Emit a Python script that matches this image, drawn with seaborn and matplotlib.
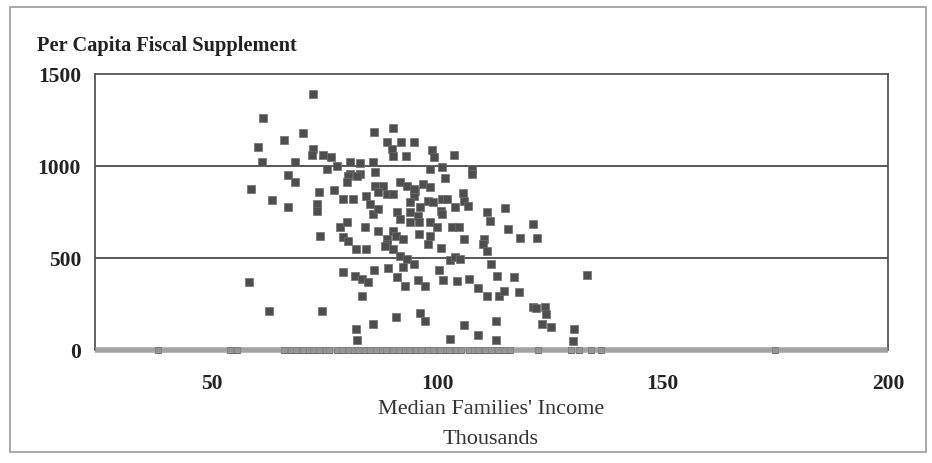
import matplotlib
matplotlib.use("Agg")
import matplotlib.pyplot as plt
import seaborn as sns
import pandas as pd
from matplotlib.patches import Rectangle

# ---- data (median families' income in thousands, per capita fiscal supplement) ----
income = [
    72.4, 61.3, 60.2, 66.0, 70.2, 61.1, 68.4, 66.9, 68.4, 58.7, 63.3, 66.9, 58.2, 62.7,
    72.4, 72.2, 74.7, 76.4, 73.8, 73.3, 73.3, 74.0, 74.4, 75.6, 77.8, 77.1,
    79.1, 81.3, 78.4, 80.0, 79.1, 80.2, 82.0, 84.2, 84.0, 80.7, 82.9, 80.7, 82.9, 80.2,
    82.2, 80.0, 79.1, 81.8, 83.3, 84.7, 83.3, 85.6, 82.0, 82.2,
    85.6, 86.2, 86.0, 90.2, 88.9, 92.0, 90.0, 90.2, 93.1, 84.2, 86.2, 88.0, 86.7, 88.9,
    90.2, 91.8, 93.3, 85.1, 85.8, 86.7, 91.1, 91.8, 86.9, 90.2, 90.7, 92.4, 88.9, 88.9,
    90.2, 91.8, 93.3, 88.4, 86.0, 89.1, 92.4, 91.1, 92.9, 90.9,
    94.7, 98.7, 99.3, 98.4, 101.1, 101.6, 96.9, 98.4, 95.1, 94.9, 94.0, 97.8, 99.1, 101.1,
    102.2, 94.0, 96.2, 95.6, 100.7, 101.1, 94.0, 98.4, 95.8, 100.0, 96.0, 97.8, 100.7, 98.4,
    94.7, 95.6, 97.3, 100.4, 96.2, 97.3, 94.7,
    103.6, 107.6, 107.6, 105.6, 105.8, 106.7, 104.0, 103.3, 104.7, 105.8, 102.9, 104.0,
    105.1, 101.3, 104.4, 106.9, 108.9, 105.8, 102.9, 110.4, 110.2, 110.9, 111.1, 111.6,
    111.8, 113.3, 111.1, 108.9,
    113.6, 114.7, 112.9, 112.9, 115.1, 115.6, 117.1, 118.0, 118.4, 121.3, 122.2, 121.1,
    121.8, 123.8, 124.2, 123.3, 125.1, 130.2, 130.0, 133.1,
]
supplement = [
    1391, 1261, 1103, 1141, 1179, 1022, 1022, 951, 913, 875, 815, 777, 370, 212,
    1092, 1060, 1060, 1049, 859, 793, 755, 620, 212, 984, 1000, 870,
    821, 821, 668, 696, 614, 592, 549, 549, 668, 1022, 1016, 957, 957, 946,
    946, 913, 424, 402, 386, 370, 293, 141, 114, 54,
    1022, 967, 1185, 1207, 1130, 1130, 1092, 1054, 1054, 837, 891, 891, 859, 848,
    848, 913, 891, 793, 739, 766, 750, 712, 647, 647, 620, 603, 603, 576,
    549, 511, 495, 565, 435, 446, 451, 397, 348, 179,
    1130, 1087, 1049, 984, 995, 935, 902, 886, 864, 837, 804, 810, 804, 821,
    821, 750, 777, 728, 755, 739, 696, 696, 696, 668, 630, 576, 554, 620,
    467, 380, 348, 435, 201, 158, 875,
    1060, 984, 957, 853, 810, 783, 777, 668, 668, 603, 489, 505,
    495, 380, 375, 386, 337, 136, 60, 603, 576, 538, 750, 701,
    467, 402, 293, 82,
    293, 321, 158, 54, 772, 658, 397, 315, 609, 685, 609, 234,
    228, 234, 196, 141, 125, 114, 49, 408,
]
zero_income = [
    38.0, 54.0, 55.5, 66.0, 67.4, 68.6, 70.1, 71.5, 72.3, 73.8, 75.2, 76.0, 77.6, 78.9,
    80.3, 81.5, 82.4, 83.8, 85.1, 86.3, 87.7, 88.6, 90.1, 91.4, 92.8, 93.6, 95.2, 96.4,
    97.9, 99.1, 100.5, 101.8, 102.6, 104.1, 105.3, 106.9, 108.2, 109.0, 110.6, 111.9,
    113.4, 114.8, 116.0, 122.4, 129.6, 131.5, 134.0, 136.2, 175.0,
]
zero_supplement = [0] * len(zero_income)

x_ticks = [50, 100, 150, 200]
y_ticks = [0, 500, 1000, 1500]

df = pd.DataFrame({"income": income, "supplement": supplement})
df0 = pd.DataFrame({"income": zero_income, "supplement": zero_supplement})

sns.set_theme(style="white")
plt.rcParams["font.family"] = ["Liberation Serif", "DejaVu Serif"]

fig = plt.figure(figsize=(9.32, 4.64), dpi=100)
ax = fig.add_axes([95 / 932, 1 - 351 / 464, (888 - 95) / 932, (351 - 75) / 464])

sns.scatterplot(data=df, x="income", y="supplement", ax=ax, marker="s", s=30,
                color="#4e4e4e", edgecolor="#6e6e6e", linewidth=0.5, zorder=3,
                legend=False)
sns.scatterplot(data=df0, x="income", y="supplement", ax=ax, marker="s", s=22,
                color="#b4b4b4", edgecolor="#6a6a6a", linewidth=0.7, zorder=3,
                clip_on=False, legend=False)

ax.set_xlim(24, 200)
ax.set_ylim(0, 1500)
ax.set_xticks(x_ticks)
ax.set_yticks(y_ticks)
ax.set_xticklabels([str(v) for v in x_ticks], fontsize=15.5, fontweight="bold")
ax.set_yticklabels([str(v) for v in y_ticks], fontsize=15.5, fontweight="bold")
ax.tick_params(axis="x", length=0, pad=16.5, colors="#222222")
ax.tick_params(axis="y", length=0, pad=10, colors="#222222")

for v in [500, 1000]:
    ax.axhline(v, color="#555555", lw=1.4, zorder=1)
ax.axhline(0, color="#8c8c8c", lw=4, zorder=4, alpha=0.8, solid_capstyle="butt",
           clip_on=False)

for s in ["left", "top", "right"]:
    ax.spines[s].set_color("#555555")
    ax.spines[s].set_linewidth(1.3)
ax.spines["bottom"].set_visible(False)

ax.set_xlabel("")
ax.set_ylabel("")

fig.text(37 / 932, 1 - 46 / 464, "Per Capita Fiscal Supplement", fontsize=14.7,
         fontweight="bold", ha="left", va="center", color="#222222")
fig.text(491 / 932, 1 - 410 / 464, "Median Families' Income", fontsize=16,
         ha="center", va="center", color="#333333")
fig.text(491 / 932, 1 - 440 / 464, "Thousands", fontsize=16,
         ha="center", va="center", color="#333333")

fig.patches.append(Rectangle((10 / 932, 1 - 453 / 464), (926 - 10) / 932, (453 - 8) / 464,
                             transform=fig.transFigure, fill=False,
                             edgecolor="#9a9a9a", lw=1.2))

fig.savefig("out.png", dpi=100)
